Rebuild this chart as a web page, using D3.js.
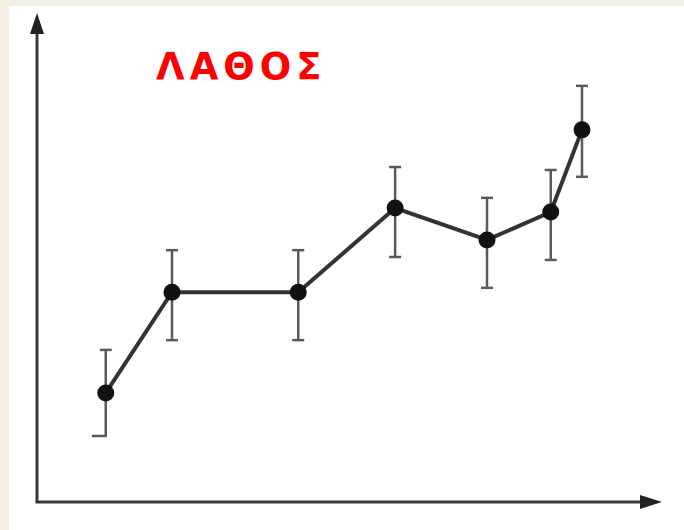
<!DOCTYPE html>
<html>
<head>
<meta charset="utf-8">
<script src="https://cdn.jsdelivr.net/npm/d3@7"></script>
<style>
    body { margin: 0; background: #f3f0e2; }
    svg { display: block; }
</style>
</head>
<body>
<div id="chart"></div>
<script>
// values (arbitrary units, 0-100 on both axes)
var xs    = [11, 21.6, 41.8, 57.3, 72, 82.2, 87.2];
var means = [22.3, 42.9, 42.9, 60.1, 53.6, 59.3, 76.1];
var highs = [31.1, 51.5, 51.5, 68.5, 62.2, 67.9, 85.1];
var lows  = [13.5, 33.1, 33.1, 50.1, 43.8, 49.5, 66.5];
var title = "ΛΑΘΟΣ";

var width = 684, height = 530;
var margin = { top: 13, right: 22, bottom: 28, left: 37 };

var data = xs.map((d, i) => ({ x: d, y: means[i], hi: highs[i], lo: lows[i] }));

var svg = d3.select("#chart").append("svg")
    .attr("width", width)
    .attr("height", height);

// white sheet over the beige slide
svg.append("rect")
    .attr("x", 9).attr("y", 6)
    .attr("width", width - 9).attr("height", height - 6)
    .attr("fill", "#ffffff");

var x = d3.scaleLinear()
    .domain([0, 100])
    .range([margin.left, width - margin.right]);

var y = d3.scaleLinear()
    .domain([0, 100])
    .range([height - margin.bottom, margin.top]);

var axisColor = "#3a3a3a";

// axes with arrow heads
svg.append("line")
    .attr("x1", x(0)).attr("y1", y(0))
    .attr("x2", x(0)).attr("y2", y(100) + 18)
    .attr("stroke", axisColor).attr("stroke-width", 3);
svg.append("path")
    .attr("d", `M${x(0)},${y(100)} L${x(0) - 7},${y(100) + 21} L${x(0) + 7},${y(100) + 21} Z`)
    .attr("fill", "#222");

svg.append("line")
    .attr("x1", x(0) - 1.5).attr("y1", y(0))
    .attr("x2", x(100) - 18).attr("y2", y(0))
    .attr("stroke", axisColor).attr("stroke-width", 3);
svg.append("path")
    .attr("d", `M${x(100)},${y(0)} L${x(100) - 22},${y(0) - 7} L${x(100) - 22},${y(0) + 7} Z`)
    .attr("fill", "#222");

// error bars
var eb = svg.append("g")
    .attr("stroke", "#5a5a5a")
    .attr("stroke-width", 2.5);

eb.selectAll(".whisker")
    .data(data)
    .enter()
    .append("line")
    .attr("x1", d => x(d.x)).attr("x2", d => x(d.x))
    .attr("y1", d => y(d.hi)).attr("y2", d => y(d.lo));

eb.selectAll(".cap-hi")
    .data(data)
    .enter()
    .append("line")
    .attr("x1", d => x(d.x) - 6).attr("x2", d => x(d.x) + 6)
    .attr("y1", d => y(d.hi)).attr("y2", d => y(d.hi));

eb.selectAll(".cap-lo")
    .data(data)
    .enter()
    .append("line")
    .attr("x1", (d, i) => x(d.x) - (i === 0 ? 14 : 6))
    .attr("x2", (d, i) => x(d.x) + (i === 0 ? 1 : 6))
    .attr("y1", d => y(d.lo)).attr("y2", d => y(d.lo));

// connecting line
var line = d3.line()
    .x(d => x(d.x))
    .y(d => y(d.y));

svg.append("path")
    .datum(data)
    .attr("fill", "none")
    .attr("stroke", "#333")
    .attr("stroke-width", 4)
    .attr("d", line);

svg.append("g")
    .selectAll("circle")
    .data(data)
    .enter()
    .append("circle")
    .attr("cx", d => x(d.x))
    .attr("cy", d => y(d.y))
    .attr("r", 8.5)
    .attr("fill", "#111");

svg.append("text")
    .attr("x", 156)
    .attr("y", 79)
    .attr("fill", "#ff0000")
    .attr("font-family", "DejaVu Sans, sans-serif")
    .attr("font-weight", "bold")
    .attr("font-size", 37)
    .attr("letter-spacing", 5)
    .text(title);
</script>
</body>
</html>
